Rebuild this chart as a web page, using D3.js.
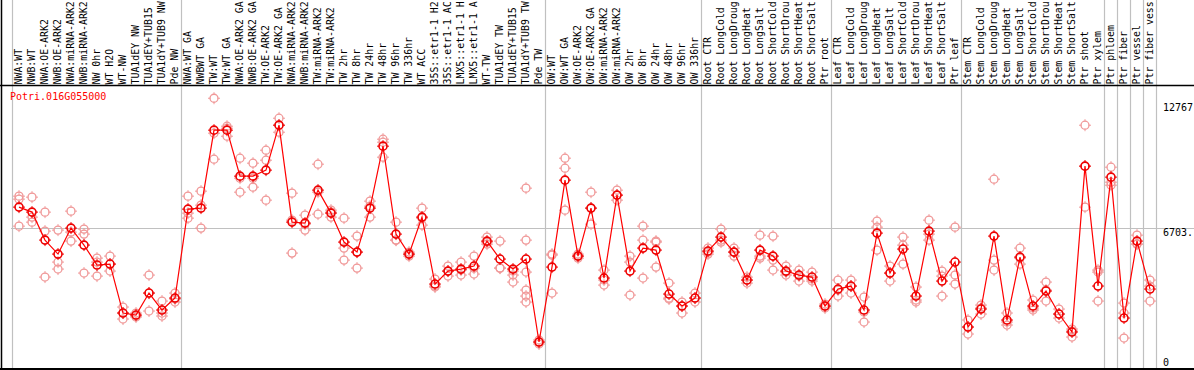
<!DOCTYPE html>
<html><head><meta charset="utf-8">
<script src="https://cdn.jsdelivr.net/npm/d3@7"></script>
<style>
html,body{margin:0;padding:0;background:#fff;overflow:hidden}
text{font-family:"DejaVu Sans Mono",monospace;font-size:10px}
</style></head>
<body>
<svg id="chart" width="1194" height="370"></svg>
<script>
const geneName = "Potri.016G055000";

const categories = [
"NWA:WT","NWB:WT","NWA:OE-ARK2","NWB:OE-ARK2","NWA:miRNA-ARK2","NWB:miRNA-ARK2","NW 0hr","WT H2O","WT-NW","TUA1dEY NW","TUA1dEY+TUB15","TUA1dY+TUB9 NW","Pde NW",
"NWA:WT GA","NWBWT GA","TW:WT","TW:WT GA","NWA:OE-ARK2 GA","NWB:OE-ARK2 GA","TW:OE-ARK2","TW:OE-ARK2 GA","NWA:miRNA-ARK2","NWB:miRNA-ARK2","TW:miRNA-ARK2","TW:miRNA-ARK2","TW 2hr","TW 8hr","TW 24hr","TW 48hr","TW 96hr","TW 336hr","WT ACC","35S::etr1-1 H2O","35S::etr1-1 ACC","LMX5::etr1-1 H2O","LMX5::etr1-1 ACC","WT-TW","TUA1dEY TW","TUA1dEY+TUB15","TUA1dY+TUB9 TW","Pde TW",
"OW:WT","OW:WT GA","OW:OE-ARK2","OW:OE-ARK2 GA","OW:miRNA-ARK2","OW:miRNA-ARK2","OW 2hr","OW 8hr","OW 24hr","OW 48hr","OW 96hr","OW 336hr",
"Root CTR","Root LongCold","Root LongDrought","Root LongHeat","Root LongSalt","Root ShortCold","Root ShortDrought","Root ShortHeat","Root ShortSalt","Ptr root",
"Leaf CTR","Leaf LongCold","Leaf LongDrought","Leaf LongHeat","Leaf LongSalt","Leaf ShortCold","Leaf ShortDrought","Leaf ShortHeat","Leaf ShortSalt","Ptr leaf",
"Stem CTR","Stem LongCold","Stem LongDrought","Stem LongHeat","Stem LongSalt","Stem ShortCold","Stem ShortDrought","Stem ShortHeat","Stem ShortSalt","Ptr shoot",
"Ptr xylem","Ptr phloem","Ptr fiber","Ptr vessel","Ptr fiber vessel"
];

const meanValues = [
7713,7471,6112,5433,6694,5870,4900,4948,2571,2474,3541,2717,3299,
7616,7665,11448,11448,9217,9217,9508,11691,6985,6937,8538,7422,6015,5530,7665,10672,6403,5433,7228,3978,4608,4705,4851,6064,5191,4705,5191,1164,
4802,9023,5336,7665,4269,8295,4608,5724,5627,3493,2911,3299,
5579,6258,5530,4172,5627,5336,4608,4414,4317,2911,
3735,3881,2717,6452,4511,5676,3396,6549,4123,5045,
1892,2765,6306,2231,5288,2911,3638,2523,1649,9702,
3881,9168,2328,6064,3735
];

const replicates = [
[8245,8100,6790],[8197,6984,7227],[7469,6548,4317],[6596,5044,4705],[7518,6499,6063],[6645,6402,4511],[5238,5044,4365],[5335,4947,4608],[2862,2571,2280],[2571,2377,2425],[4414,3541,2668],[3153,2571,2425],[3541,3104,3250],
[8245,7421,7178],[8488,7809,6693],[12998,10040,11301],[11640,11543,11155],[10088,8439,9118],[9846,9118,8682],[10476,9991,8051],[12028,11689,11349],[8391,5481,7081],[7324,6887,6596],[9797,7372,8439],[7566,7469,7227],[7178,5723,5141],[6305,5529,4753],[8003,7760,7227],[11010,10864,10137],[6984,6111,6111],[5529,5432,5335],[7663,7178,6839],[4220,3832,3880],[4850,4608,4365],[5044,4656,4414],[5335,4753,4462],[6257,5917,6014],[6063,4753,4753],[4608,4414,4074],[8633,6111,4559,3686,3395,3104],[1261,1164,1067],
[5432,5384,3541],[10088,9603,7566],[5432,5335,5238],[8439,7663,6887],[4656,4171,3928],[8536,8293,8051],[5335,5044,3443],[4268,6111,6790],[4801,6063,6014],[4025,3250,3298],[3104,2571,2910],[3541,3104,3298],
[5723,5529,5432],[6645,6111,6014],[5335,5723,5529],[4316,4025,4171],[6353,5238,5335],[6305,5141,4656],[4850,4559,4414],[4656,4122,4365],[4559,4122,4220],[3007,2813,2910],
[4171,3395,3686],[4171,3541,3880],[3346,2134,2619],[7032,6741,5626],[4850,4122,4511],[6257,5868,4947],[3201,3104,3832],[7081,6402,6111],[4608,4365,3395],[6741,4414,3977],
[2231,1552,1891],[2958,2522,2813],[9069,4656,5141],[2571,1988,2134],[5723,4947,5238],[3201,2716,2813],[4074,3152,3686],[2764,2328,2522],[1697,1406,1794],[11689,7711,9700],
[4656,4559,3152],[9651,8924,8778],[3055,1358,2571],[6353,5917,5917],[4171,3152,3880]
];

// indices where a new group begins (separator line drawn before them)
const groupStarts = [0, 13, 41, 53, 63, 73, 84, 85, 86, 87, 88];

const axisValues = [12767, 6703, 0];
const axisLabels = ["12767", "6703.", "0"];

const maxLabelChars = 14;

const W = 1194, H = 370;
const svg = d3.select("#chart");

const x = d3.scaleLinear().domain([0, categories.length - 1]).range([19, 19 + 13 * (categories.length - 1)]);
const y = d3.scaleLinear().domain([0, 12767]).range([366, 103]);

const gridColor = "#c0c0c0";

// group separators
svg.append("g").selectAll("line").data(groupStarts).join("line")
  .attr("x1", d => Math.round(x(d - 0.5) - 1) + 0.5)
  .attr("x2", d => Math.round(x(d - 0.5) - 1) + 0.5)
  .attr("y1", 0).attr("y2", 369)
  .attr("stroke", gridColor).attr("stroke-width", 1.2);

// mid horizontal line
svg.append("line")
  .attr("x1", 11).attr("x2", W)
  .attr("y1", Math.round(y(axisValues[1])) + 0.5).attr("y2", Math.round(y(axisValues[1])) + 0.5)
  .attr("stroke", gridColor).attr("stroke-width", 1.2);

// frame
svg.append("line").attr("x1", 0).attr("x2", W).attr("y1", 85.5).attr("y2", 85.5).attr("stroke", "#000").attr("stroke-width", 1.5);
svg.append("line").attr("x1", 0).attr("x2", W).attr("y1", 369).attr("y2", 369).attr("stroke", "#000").attr("stroke-width", 2);
svg.append("line").attr("x1", 1.5).attr("x2", 1.5).attr("y1", 0).attr("y2", 370).attr("stroke", "#000").attr("stroke-width", 1.5);

// column labels (shown truncated to the header height, as in the original)
svg.append("g").selectAll("text").data(categories).join("text")
  .attr("transform", (d, i) => `translate(${x(i) + 3},84.5) rotate(-90)`)
  .attr("fill", "#000")
  .style("font-size", "9.9px")
  .text(d => d.length > maxLabelChars ? d.slice(0, maxLabelChars) : d);

// gene name
svg.append("text").attr("x", 10).attr("y", 100).attr("fill", "#ff0000").text(geneName);

// right axis labels
svg.append("g").selectAll("text").data(axisValues).join("text")
  .attr("x", 1163)
  .attr("y", (d, i) => i === 2 ? 366 : y(d) + 8)
  .attr("fill", "#000")
  .text((d, i) => axisLabels[i]);

function marker(g, cx, cy, color, sw) {
  g.append("circle").attr("cx", cx).attr("cy", cy).attr("r", 4)
    .attr("fill", "none").attr("stroke", color).attr("stroke-width", sw);
  const t = [[0,-1],[0,1],[-1,0],[1,0]];
  t.forEach(([dx, dy]) => {
    g.append("line")
      .attr("x1", cx + dx * 3.5).attr("y1", cy + dy * 3.5)
      .attr("x2", cx + dx * 6).attr("y2", cy + dy * 6)
      .attr("stroke", color).attr("stroke-width", 1);
  });
}

// replicates
const repG = svg.append("g");
replicates.forEach((reps, i) => {
  reps.forEach(v => marker(repG, x(i), y(v), "#f09898", 1.3));
});

// mean line
svg.append("path")
  .datum(meanValues)
  .attr("fill", "none").attr("stroke", "#ff0000").attr("stroke-width", 1.2)
  .attr("d", d3.line().x((d, i) => x(i)).y(d => y(d)));

const meanG = svg.append("g");
meanValues.forEach((v, i) => marker(meanG, x(i), y(v), "#ee0000", 1.6));
</script>
</body></html>
